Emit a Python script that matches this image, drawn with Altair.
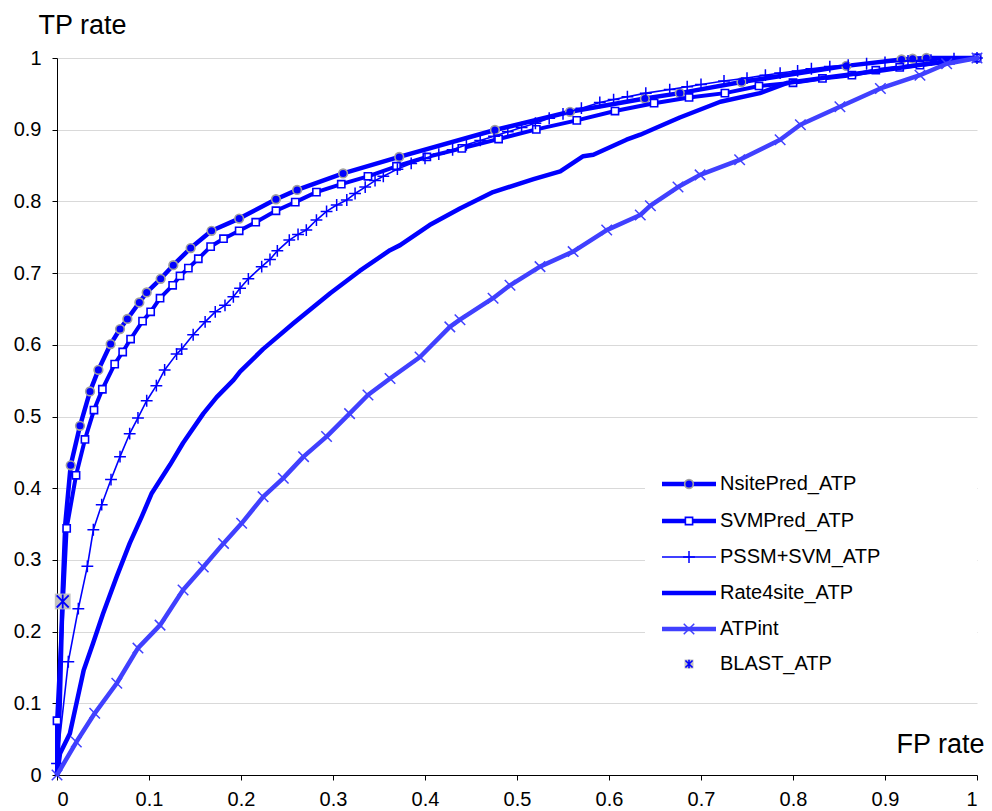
import altair as alt
import pandas as pd

# ---------------- data ----------------
series_names = ["NsitePred_ATP", "SVMPred_ATP", "PSSM+SVM_ATP",
                "Rate4site_ATP", "ATPint", "BLAST_ATP"]

nsite_x = [0, 0.003, 0.006, 0.009, 0.0149, 0.025, 0.0359, 0.045, 0.0583, 0.0685,
           0.0765, 0.0895, 0.0975, 0.1127, 0.1264, 0.1453, 0.168, 0.198, 0.238,
           0.261, 0.311, 0.372, 0.476, 0.5576, 0.639, 0.677, 0.744, 0.858, 0.918,
           0.93, 0.945, 1.0]
nsite_y = [0, 0.10, 0.25, 0.35, 0.432, 0.487, 0.535, 0.565, 0.601, 0.622,
           0.636, 0.659, 0.673, 0.692, 0.711, 0.735, 0.759, 0.776, 0.803,
           0.816, 0.839, 0.862, 0.8996, 0.925, 0.9435, 0.951, 0.9665, 0.989, 0.998,
           0.999, 1.0, 1.0]

svm_x = [0, 0, 0.0105, 0.0207, 0.0304, 0.0402, 0.0493, 0.0627, 0.0714, 0.080,
         0.093, 0.1018, 0.112, 0.1257, 0.1337, 0.1428, 0.1536, 0.167, 0.181, 0.198,
         0.216, 0.238, 0.259, 0.282, 0.309, 0.338, 0.369, 0.402, 0.44, 0.48,
         0.521, 0.565, 0.6065, 0.649, 0.687, 0.726, 0.763, 0.8, 0.832, 0.864,
         0.89, 0.916, 0.938, 1.0]
svm_y = [0, 0.0757, 0.344, 0.418, 0.468, 0.509, 0.538, 0.573, 0.59, 0.608,
         0.633, 0.646, 0.665, 0.683, 0.696, 0.707, 0.72, 0.737, 0.748, 0.759,
         0.771, 0.787, 0.799, 0.813, 0.824, 0.835, 0.849, 0.862, 0.874, 0.887,
         0.9005, 0.913, 0.926, 0.937, 0.945, 0.951, 0.961, 0.9655, 0.9715, 0.976,
         0.983, 0.987, 0.99, 1.0]

pssm_x = [0, 0, 0.0123, 0.0232, 0.033, 0.0395, 0.0486, 0.0587, 0.0685, 0.079,
          0.088, 0.0975, 0.108, 0.117, 0.13, 0.1355, 0.148, 0.161, 0.172, 0.1826,
          0.1917, 0.199, 0.208, 0.2225, 0.2315, 0.2395, 0.2525, 0.262, 0.271, 0.282,
          0.293, 0.304, 0.315, 0.324, 0.335, 0.3457, 0.3547, 0.37, 0.385, 0.4,
          0.415, 0.43, 0.445, 0.46, 0.475, 0.49, 0.505, 0.52, 0.535, 0.55,
          0.57, 0.59, 0.605, 0.62, 0.64, 0.666, 0.685, 0.7, 0.725, 0.75,
          0.77, 0.786, 0.805, 0.82, 0.84, 0.86, 0.88, 0.9, 0.925, 0.95, 0.975, 1.0]
pssm_y = [0, 0.016, 0.158, 0.232, 0.291, 0.342, 0.377, 0.412, 0.444, 0.476,
          0.498, 0.522, 0.543, 0.565, 0.587, 0.594, 0.614, 0.632, 0.646, 0.655,
          0.667, 0.679, 0.692, 0.709, 0.719, 0.731, 0.746, 0.754, 0.76, 0.774,
          0.786, 0.795, 0.802, 0.811, 0.820, 0.829, 0.835, 0.845, 0.853, 0.86,
          0.866, 0.872, 0.879, 0.885, 0.891, 0.897, 0.903, 0.909, 0.916, 0.922,
          0.93, 0.938, 0.942, 0.946, 0.951, 0.956, 0.96, 0.963, 0.968, 0.972,
          0.976, 0.979, 0.982, 0.985, 0.988, 0.99, 0.992, 0.994, 0.996, 0.997, 0.999, 1.0]

rate_x = [0, 0.0033, 0.014, 0.029, 0.039, 0.05, 0.065, 0.079, 0.092, 0.103,
          0.123, 0.137, 0.159, 0.1736, 0.192, 0.199, 0.224, 0.257, 0.297, 0.329,
          0.362, 0.373, 0.405, 0.438, 0.474, 0.518, 0.547, 0.572, 0.583, 0.619,
          0.634, 0.652, 0.677, 0.721, 0.764, 0.793, 0.843, 0.898, 0.952, 1.0]
rate_y = [0, 0.03, 0.058, 0.146, 0.183, 0.225, 0.277, 0.323, 0.36, 0.393,
          0.433, 0.463, 0.504, 0.527, 0.551, 0.5625, 0.594, 0.63, 0.672, 0.703,
          0.732, 0.739, 0.767, 0.79, 0.813, 0.831, 0.842, 0.863, 0.865, 0.886,
          0.893, 0.903, 0.917, 0.939, 0.951, 0.965, 0.974, 0.983, 0.993, 1.0]

atp_x = [0, 0.021, 0.041, 0.065, 0.088, 0.112, 0.137, 0.159, 0.181, 0.2007,
         0.224, 0.246, 0.268, 0.293, 0.318, 0.338, 0.362, 0.3946, 0.427, 0.438,
         0.474, 0.4924, 0.525, 0.561, 0.5975, 0.634, 0.645, 0.675, 0.699, 0.742,
         0.786, 0.808, 0.851, 0.895, 0.938, 0.967, 1.0]
atp_y = [0, 0.046, 0.086, 0.128, 0.177, 0.209, 0.258, 0.29, 0.323, 0.351,
         0.388, 0.414, 0.444, 0.472, 0.504, 0.53, 0.553, 0.583, 0.625, 0.635,
         0.665, 0.683, 0.709, 0.73, 0.76, 0.781, 0.794, 0.82, 0.837, 0.858,
         0.886, 0.907, 0.932, 0.9575, 0.976, 0.992, 1.0]

blast_x = [0.0062]
blast_y = [0.242]

tick_values = [0, 0.1, 0.2, 0.3, 0.4, 0.5, 0.6, 0.7, 0.8, 0.9, 1]

# ---------------- styling ----------------
BLUE = "#0000FF"
LBLUE = "#4040FF"
FONT = "Liberation Sans"
PLUS = "M-1,0L1,0M0,-1L0,1"
XMARK = "M-1,-1L1,1M-1,1L1,-1"
STAR = "M0,-1L0,1M-0.85,-0.85L0.85,0.85M-0.85,0.85L0.85,-0.85"


def frame(xs, ys):
    return pd.DataFrame({"x": xs, "y": ys, "i": list(range(len(xs)))})


x_enc = alt.X("x:Q", scale=alt.Scale(domain=[0, 1], nice=False),
              axis=alt.Axis(values=tick_values, format="~g", grid=False,
                            title="FP rate", titleX=883, titleY=-23,
                            titleAlign="center", titleBaseline="alphabetic",
                            titleAngle=0))
y_enc = alt.Y("y:Q", scale=alt.Scale(domain=[0, 1], nice=False),
              axis=alt.Axis(values=tick_values, format="~g", grid=True,
                            title="TP rate", titleX=25, titleY=-25,
                            titleAlign="center", titleBaseline="alphabetic",
                            titleAngle=0))


def line(df, color, width):
    return alt.Chart(df).mark_line(color=color, strokeWidth=width,
                                   strokeJoin="round").encode(
        x=x_enc, y=y_enc, order="i:Q")


def pts(df, **kw):
    return alt.Chart(df).mark_point(opacity=1, **kw).encode(x=x_enc, y=y_enc)


ns = frame(nsite_x, nsite_y)
sv = frame(svm_x, svm_y)
ps = frame(pssm_x, pssm_y)
rt = frame(rate_x, rate_y)
at = frame(atp_x, atp_y)
bl = frame(blast_x, blast_y)

CIRCLE_KW = dict(shape="circle", size=75, filled=True, fill=BLUE,
                 stroke="#A0A0A0", strokeWidth=1.6)
SQUARE_KW = dict(shape="square", size=52, filled=True, fill="white",
                 stroke=BLUE, strokeWidth=1.6)
PLUS_KW = dict(shape=PLUS, size=140, filled=False, stroke=BLUE, strokeWidth=1.5)
X_KW = dict(shape=XMARK, size=110, filled=False, stroke=LBLUE, strokeWidth=1.5)

layers = [
    line(ns, BLUE, 4.5),
    pts(ns.iloc[4:], **CIRCLE_KW),
    line(sv, BLUE, 4),
    pts(sv.iloc[1:], **SQUARE_KW),
    line(ps, BLUE, 1.6),
    pts(ps.iloc[1:], **PLUS_KW),
    line(rt, BLUE, 4.5),
    line(at, LBLUE, 4.5),
    pts(at, **X_KW),
    pts(bl, shape="square", size=250, filled=True, fill="#C0C0C0",
        strokeWidth=0),
    pts(bl, shape=STAR, size=200, filled=False, stroke=BLUE, strokeWidth=1.8),
]

# ---------------- legend (drawn manually) ----------------
one = pd.DataFrame({"k": [0]})
layers.append(alt.Chart(one).mark_rect(color="white").encode(
    x=alt.value(588), x2=alt.value(920), y=alt.value(405), y2=alt.value(632)))

row_y = [426, 463, 499, 535, 571, 606]
leg_line = [(BLUE, 4.5), (BLUE, 4.5), (BLUE, 1.6), (BLUE, 4.5), (LBLUE, 4.5), None]
leg_marks = [[CIRCLE_KW], [SQUARE_KW], [PLUS_KW], [], [X_KW],
             [dict(shape="square", size=80, filled=True, fill="#C0C0C0",
                   strokeWidth=0),
              dict(shape=STAR, size=70, filled=False, stroke=BLUE,
                   strokeWidth=1.6)]]
for name, ry, ls, mks in zip(series_names, row_y, leg_line, leg_marks):
    d = pd.DataFrame({"label": [name]})
    if ls is not None:
        layers.append(alt.Chart(d).mark_rule(color=ls[0], strokeWidth=ls[1]).encode(
            x=alt.value(605), x2=alt.value(659), y=alt.value(ry)))
    for kw in mks:
        layers.append(alt.Chart(d).mark_point(opacity=1, **kw).encode(
            x=alt.value(632), y=alt.value(ry)))
    layers.append(alt.Chart(d).mark_text(align="left", baseline="middle",
                                         font=FONT, fontSize=20,
                                         color="black").encode(
        x=alt.value(663), y=alt.value(ry), text="label:N"))

chart = alt.layer(*layers).properties(
    width=920, height=717,
    padding={"left": 57, "top": 58, "right": 15, "bottom": 36},
    autosize=alt.AutoSizeParams(type="none"),
    background="white",
).configure_view(stroke=None).configure_axis(
    domainColor="black", domainWidth=1, tickColor="black", tickSize=5,
    tickWidth=1, labelFont=FONT, labelFontSize=20, labelColor="black",
    titleFont=FONT, titleFontSize=27, titleFontWeight="normal",
    titleColor="black", gridColor="#D9D9D9", gridWidth=1,
).configure_axisX(labelPadding=9).configure_axisY(labelPadding=11)

chart.save("out.html", embed_options={"renderer": "svg", "actions": False})
